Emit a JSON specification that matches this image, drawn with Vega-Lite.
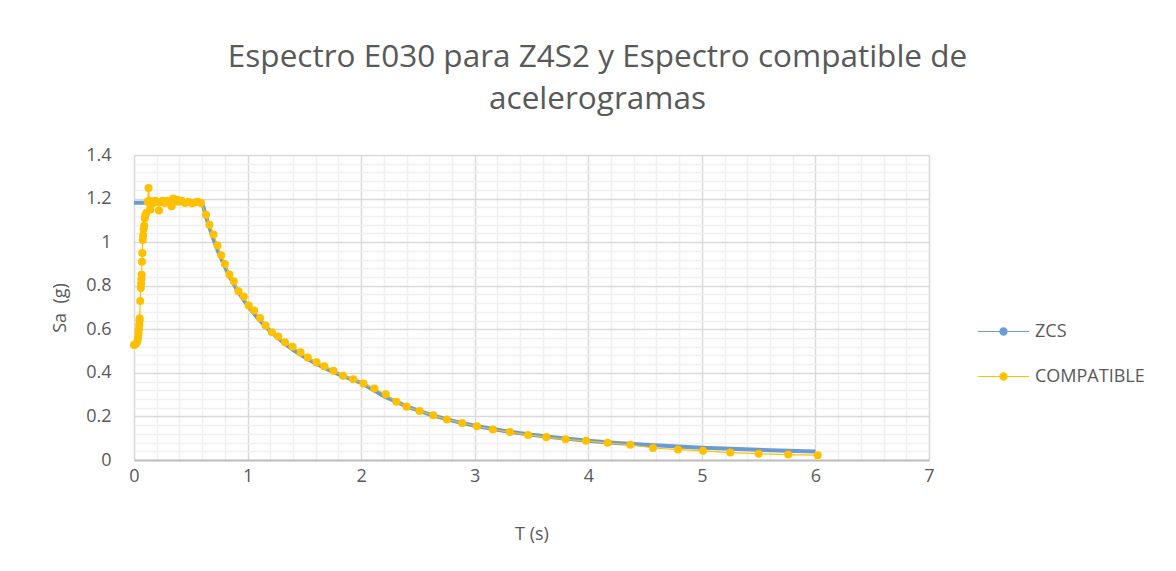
{
  "$schema": "https://vega.github.io/schema/vega-lite/v6.json",
  "autosize": "none",
  "width": 795,
  "height": 305,
  "padding": {"left": 134, "top": 155, "right": 247, "bottom": 111},
  "background": "white",
  "title": {
    "text": ["Espectro E030 para Z4S2 y Espectro compatible de", "acelerogramas"],
    "font": "Open Sans",
    "fontWeight": 400,
    "fontSize": 31.5,
    "color": "#595959",
    "anchor": "middle",
    "dx": 66,
    "offset": 31,
    "lineHeight": 42
  },
  "config": {
    "view": {"stroke": null},
    "font": "Open Sans",
    "legend": {"labelFont": "Open Sans", "labelFontSize": 18, "labelColor": "#595959"}
  },
  "datasets": {
    "zcs": [
      {"T": 0, "Sa": 1.181, "serie": "ZCS"},
      {"T": 0.1, "Sa": 1.181, "serie": "ZCS"},
      {"T": 0.2, "Sa": 1.181, "serie": "ZCS"},
      {"T": 0.3, "Sa": 1.181, "serie": "ZCS"},
      {"T": 0.4, "Sa": 1.181, "serie": "ZCS"},
      {"T": 0.5, "Sa": 1.181, "serie": "ZCS"},
      {"T": 0.6, "Sa": 1.181, "serie": "ZCS"},
      {"T": 0.65, "Sa": 1.09, "serie": "ZCS"},
      {"T": 0.7, "Sa": 1.0125, "serie": "ZCS"},
      {"T": 0.75, "Sa": 0.945, "serie": "ZCS"},
      {"T": 0.8, "Sa": 0.886, "serie": "ZCS"},
      {"T": 0.85, "Sa": 0.834, "serie": "ZCS"},
      {"T": 0.9, "Sa": 0.7875, "serie": "ZCS"},
      {"T": 0.95, "Sa": 0.746, "serie": "ZCS"},
      {"T": 1.0, "Sa": 0.709, "serie": "ZCS"},
      {"T": 1.1, "Sa": 0.644, "serie": "ZCS"},
      {"T": 1.2, "Sa": 0.591, "serie": "ZCS"},
      {"T": 1.3, "Sa": 0.545, "serie": "ZCS"},
      {"T": 1.4, "Sa": 0.506, "serie": "ZCS"},
      {"T": 1.5, "Sa": 0.4725, "serie": "ZCS"},
      {"T": 1.6, "Sa": 0.443, "serie": "ZCS"},
      {"T": 1.7, "Sa": 0.417, "serie": "ZCS"},
      {"T": 1.8, "Sa": 0.394, "serie": "ZCS"},
      {"T": 1.9, "Sa": 0.373, "serie": "ZCS"},
      {"T": 2.0, "Sa": 0.354, "serie": "ZCS"},
      {"T": 2.2, "Sa": 0.293, "serie": "ZCS"},
      {"T": 2.4, "Sa": 0.246, "serie": "ZCS"},
      {"T": 2.6, "Sa": 0.2097, "serie": "ZCS"},
      {"T": 2.8, "Sa": 0.1808, "serie": "ZCS"},
      {"T": 3.0, "Sa": 0.1575, "serie": "ZCS"},
      {"T": 3.25, "Sa": 0.1342, "serie": "ZCS"},
      {"T": 3.5, "Sa": 0.1157, "serie": "ZCS"},
      {"T": 3.75, "Sa": 0.1008, "serie": "ZCS"},
      {"T": 4.0, "Sa": 0.0886, "serie": "ZCS"},
      {"T": 4.25, "Sa": 0.0785, "serie": "ZCS"},
      {"T": 4.5, "Sa": 0.07, "serie": "ZCS"},
      {"T": 4.75, "Sa": 0.0628, "serie": "ZCS"},
      {"T": 5.0, "Sa": 0.0567, "serie": "ZCS"},
      {"T": 5.25, "Sa": 0.0514, "serie": "ZCS"},
      {"T": 5.5, "Sa": 0.0469, "serie": "ZCS"},
      {"T": 5.75, "Sa": 0.0429, "serie": "ZCS"},
      {"T": 6.0, "Sa": 0.0394, "serie": "ZCS"}
    ],
    "comp": [
      {"T": 0.0, "Sa": 0.528, "serie": "COMPATIBLE"},
      {"T": 0.01, "Sa": 0.53, "serie": "COMPATIBLE"},
      {"T": 0.02, "Sa": 0.535, "serie": "COMPATIBLE"},
      {"T": 0.03, "Sa": 0.545, "serie": "COMPATIBLE"},
      {"T": 0.035, "Sa": 0.56, "serie": "COMPATIBLE"},
      {"T": 0.04, "Sa": 0.58, "serie": "COMPATIBLE"},
      {"T": 0.043, "Sa": 0.6, "serie": "COMPATIBLE"},
      {"T": 0.046, "Sa": 0.62, "serie": "COMPATIBLE"},
      {"T": 0.048, "Sa": 0.64, "serie": "COMPATIBLE"},
      {"T": 0.05, "Sa": 0.65, "serie": "COMPATIBLE"},
      {"T": 0.055, "Sa": 0.73, "serie": "COMPATIBLE"},
      {"T": 0.06, "Sa": 0.79, "serie": "COMPATIBLE"},
      {"T": 0.062, "Sa": 0.81, "serie": "COMPATIBLE"},
      {"T": 0.065, "Sa": 0.83, "serie": "COMPATIBLE"},
      {"T": 0.067, "Sa": 0.85, "serie": "COMPATIBLE"},
      {"T": 0.07, "Sa": 0.91, "serie": "COMPATIBLE"},
      {"T": 0.073, "Sa": 0.95, "serie": "COMPATIBLE"},
      {"T": 0.077, "Sa": 1.01, "serie": "COMPATIBLE"},
      {"T": 0.08, "Sa": 1.03, "serie": "COMPATIBLE"},
      {"T": 0.085, "Sa": 1.06, "serie": "COMPATIBLE"},
      {"T": 0.09, "Sa": 1.075, "serie": "COMPATIBLE"},
      {"T": 0.095, "Sa": 1.11, "serie": "COMPATIBLE"},
      {"T": 0.1, "Sa": 1.125, "serie": "COMPATIBLE"},
      {"T": 0.11, "Sa": 1.135, "serie": "COMPATIBLE"},
      {"T": 0.12, "Sa": 1.185, "serie": "COMPATIBLE"},
      {"T": 0.128, "Sa": 1.248, "serie": "COMPATIBLE"},
      {"T": 0.135, "Sa": 1.19, "serie": "COMPATIBLE"},
      {"T": 0.145, "Sa": 1.15, "serie": "COMPATIBLE"},
      {"T": 0.155, "Sa": 1.185, "serie": "COMPATIBLE"},
      {"T": 0.17, "Sa": 1.18, "serie": "COMPATIBLE"},
      {"T": 0.185, "Sa": 1.19, "serie": "COMPATIBLE"},
      {"T": 0.2, "Sa": 1.185, "serie": "COMPATIBLE"},
      {"T": 0.22, "Sa": 1.145, "serie": "COMPATIBLE"},
      {"T": 0.235, "Sa": 1.185, "serie": "COMPATIBLE"},
      {"T": 0.25, "Sa": 1.19, "serie": "COMPATIBLE"},
      {"T": 0.27, "Sa": 1.18, "serie": "COMPATIBLE"},
      {"T": 0.29, "Sa": 1.19, "serie": "COMPATIBLE"},
      {"T": 0.31, "Sa": 1.185, "serie": "COMPATIBLE"},
      {"T": 0.33, "Sa": 1.165, "serie": "COMPATIBLE"},
      {"T": 0.345, "Sa": 1.2, "serie": "COMPATIBLE"},
      {"T": 0.36, "Sa": 1.185, "serie": "COMPATIBLE"},
      {"T": 0.38, "Sa": 1.195, "serie": "COMPATIBLE"},
      {"T": 0.4, "Sa": 1.185, "serie": "COMPATIBLE"},
      {"T": 0.42, "Sa": 1.19, "serie": "COMPATIBLE"},
      {"T": 0.45, "Sa": 1.18, "serie": "COMPATIBLE"},
      {"T": 0.48, "Sa": 1.185, "serie": "COMPATIBLE"},
      {"T": 0.51, "Sa": 1.178, "serie": "COMPATIBLE"},
      {"T": 0.54, "Sa": 1.182, "serie": "COMPATIBLE"},
      {"T": 0.56, "Sa": 1.185, "serie": "COMPATIBLE"},
      {"T": 0.59, "Sa": 1.18, "serie": "COMPATIBLE"},
      {"T": 0.634, "Sa": 1.126, "serie": "COMPATIBLE"},
      {"T": 0.664, "Sa": 1.08, "serie": "COMPATIBLE"},
      {"T": 0.7, "Sa": 1.035, "serie": "COMPATIBLE"},
      {"T": 0.735, "Sa": 0.985, "serie": "COMPATIBLE"},
      {"T": 0.768, "Sa": 0.94, "serie": "COMPATIBLE"},
      {"T": 0.8, "Sa": 0.9, "serie": "COMPATIBLE"},
      {"T": 0.84, "Sa": 0.851, "serie": "COMPATIBLE"},
      {"T": 0.878, "Sa": 0.82, "serie": "COMPATIBLE"},
      {"T": 0.92, "Sa": 0.775, "serie": "COMPATIBLE"},
      {"T": 0.967, "Sa": 0.75, "serie": "COMPATIBLE"},
      {"T": 1.01, "Sa": 0.709, "serie": "COMPATIBLE"},
      {"T": 1.057, "Sa": 0.686, "serie": "COMPATIBLE"},
      {"T": 1.11, "Sa": 0.652, "serie": "COMPATIBLE"},
      {"T": 1.158, "Sa": 0.617, "serie": "COMPATIBLE"},
      {"T": 1.214, "Sa": 0.586, "serie": "COMPATIBLE"},
      {"T": 1.27, "Sa": 0.567, "serie": "COMPATIBLE"},
      {"T": 1.33, "Sa": 0.54, "serie": "COMPATIBLE"},
      {"T": 1.396, "Sa": 0.52, "serie": "COMPATIBLE"},
      {"T": 1.467, "Sa": 0.494, "serie": "COMPATIBLE"},
      {"T": 1.53, "Sa": 0.47, "serie": "COMPATIBLE"},
      {"T": 1.607, "Sa": 0.448, "serie": "COMPATIBLE"},
      {"T": 1.676, "Sa": 0.43, "serie": "COMPATIBLE"},
      {"T": 1.756, "Sa": 0.41, "serie": "COMPATIBLE"},
      {"T": 1.84, "Sa": 0.387, "serie": "COMPATIBLE"},
      {"T": 1.93, "Sa": 0.371, "serie": "COMPATIBLE"},
      {"T": 2.02, "Sa": 0.351, "serie": "COMPATIBLE"},
      {"T": 2.116, "Sa": 0.328, "serie": "COMPATIBLE"},
      {"T": 2.217, "Sa": 0.302, "serie": "COMPATIBLE"},
      {"T": 2.31, "Sa": 0.267, "serie": "COMPATIBLE"},
      {"T": 2.4, "Sa": 0.245, "serie": "COMPATIBLE"},
      {"T": 2.515, "Sa": 0.225, "serie": "COMPATIBLE"},
      {"T": 2.635, "Sa": 0.205, "serie": "COMPATIBLE"},
      {"T": 2.755, "Sa": 0.186, "serie": "COMPATIBLE"},
      {"T": 2.89, "Sa": 0.17, "serie": "COMPATIBLE"},
      {"T": 3.02, "Sa": 0.155, "serie": "COMPATIBLE"},
      {"T": 3.16, "Sa": 0.14, "serie": "COMPATIBLE"},
      {"T": 3.31, "Sa": 0.128, "serie": "COMPATIBLE"},
      {"T": 3.47, "Sa": 0.115, "serie": "COMPATIBLE"},
      {"T": 3.63, "Sa": 0.105, "serie": "COMPATIBLE"},
      {"T": 3.8, "Sa": 0.095, "serie": "COMPATIBLE"},
      {"T": 3.98, "Sa": 0.088, "serie": "COMPATIBLE"},
      {"T": 4.17, "Sa": 0.079, "serie": "COMPATIBLE"},
      {"T": 4.37, "Sa": 0.07, "serie": "COMPATIBLE"},
      {"T": 4.57, "Sa": 0.055, "serie": "COMPATIBLE"},
      {"T": 4.79, "Sa": 0.048, "serie": "COMPATIBLE"},
      {"T": 5.01, "Sa": 0.042, "serie": "COMPATIBLE"},
      {"T": 5.25, "Sa": 0.034, "serie": "COMPATIBLE"},
      {"T": 5.5, "Sa": 0.029, "serie": "COMPATIBLE"},
      {"T": 5.76, "Sa": 0.025, "serie": "COMPATIBLE"},
      {"T": 6.02, "Sa": 0.022, "serie": "COMPATIBLE"}
    ]
  },
  "encoding": {
    "x": {
      "field": "T", "type": "quantitative",
      "scale": {"domain": [0, 7], "nice": false, "zero": false},
      "axis": {
        "title": "T (s)",
        "titleFont": "Open Sans", "titleFontSize": 18, "titleFontWeight": "normal", "titleColor": "#595959", "titlePadding": 40,
        "values": [0,0.2,0.4,0.6,0.8,1,1.2,1.4,1.6,1.8,2,2.2,2.4,2.6,2.8,3,3.2,3.4,3.6,3.8,4,4.2,4.4,4.6,4.8,5,5.2,5.4,5.6,5.8,6,6.2,6.4,6.6,6.8,7],
        "labelExpr": "abs(datum.value - round(datum.value)) < 0.001 ? format(datum.value, '~g') : ''",
        "labelFont": "Open Sans", "labelFontSize": 18, "labelColor": "#595959", "labelPadding": 7,
        "labelOverlap": false,
        "labelFlush": false,
        "ticks": false,
        "domainColor": "#bfbfbf", "domainWidth": 2,
        "grid": true,
        "gridColor": {"condition": {"test": "abs(datum.value - round(datum.value)) < 0.001", "value": "#d9d9d9"}, "value": "#f0f0f0"},
        "gridWidth": 1.5
      }
    },
    "y": {
      "field": "Sa", "type": "quantitative",
      "scale": {"domain": [0, 1.4], "nice": false},
      "axis": {
        "title": "Sa \u00a0(g)",
        "titleFont": "Open Sans", "titleFontSize": 18, "titleFontWeight": "normal", "titleColor": "#595959", "titlePadding": 16,
        "values": [0,0.04,0.08,0.12,0.16,0.2,0.24,0.28,0.32,0.36,0.4,0.44,0.48,0.52,0.56,0.6,0.64,0.68,0.72,0.76,0.8,0.84,0.88,0.92,0.96,1,1.04,1.08,1.12,1.16,1.2,1.24,1.28,1.32,1.36,1.4],
        "labelExpr": "abs(datum.value*5 - round(datum.value*5)) < 0.001 ? format(datum.value, '~g') : ''",
        "labelFont": "Open Sans", "labelFontSize": 18, "labelColor": "#595959", "labelPadding": 23,
        "labelOverlap": false,
        "labelFlush": false,
        "ticks": false,
        "domain": false,
        "grid": true,
        "gridColor": {"condition": {"test": "abs(datum.value*5 - round(datum.value*5)) < 0.001", "value": "#d9d9d9"}, "value": "#f0f0f0"},
        "gridWidth": 1.5
      }
    },
    "color": {
      "field": "serie", "type": "nominal",
      "scale": {"domain": ["ZCS", "COMPATIBLE"], "range": ["#6a9bd2", "#ffc000"]},
      "legend": {
        "title": null,
        "orient": "none",
        "legendX": 843,
        "legendY": 150,
        "symbolType": "M-1,0H1M0.14,0A0.14,0.14,0,1,1,-0.14,0A0.14,0.14,0,1,1,0.14,0",
        "symbolSize": 2600,
        "symbolStrokeWidth": 1.2,
        "rowPadding": 9,
        "labelOffset": 5
      }
    }
  },
  "layer": [
    {
      "data": {"name": "zcs"},
      "mark": {"type": "line", "strokeWidth": 4, "color": "#6a9bd2"}
    },
    {
      "data": {"name": "comp"},
      "mark": {"type": "line", "strokeWidth": 1.2, "color": "#ffc000"}
    },
    {
      "data": {"name": "comp"},
      "mark": {"type": "point", "filled": true, "size": 65, "opacity": 1, "color": "#ffc000"}
    }
  ]
}
